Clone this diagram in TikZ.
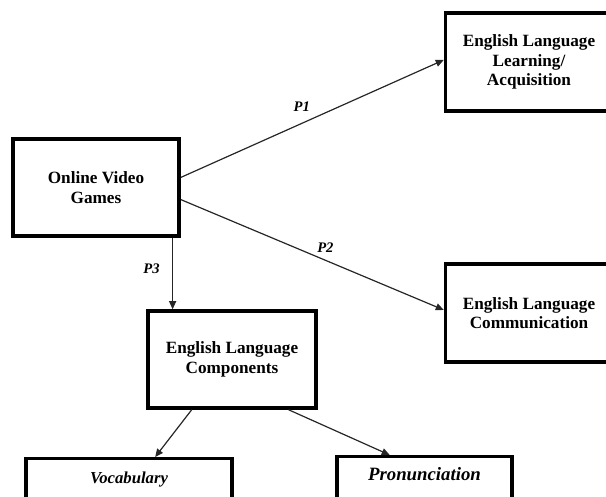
\documentclass[tikz,border=0pt]{standalone}
\usepackage{fontspec}
\setmainfont{Liberation Serif}
\usetikzlibrary{arrows.meta,calc}

\begin{document}
\begin{tikzpicture}[x=1pt, y=-1pt, >={Triangle[length=8pt,width=7pt]},
    factor/.style={draw, line width=3.5pt, align=center, inner sep=0pt,
                   font=\fontsize{17.2}{19.5}\selectfont\bfseries},
    leaf/.style={draw, line width=3.5pt, anchor=north, inner xsep=0pt,
                 inner ysep=10pt, text depth=40pt},
    link/.style={->, line width=1.2pt, draw=black!85},
    plabel/.style={font=\fontsize{14.6}{17}\selectfont\bfseries\itshape}]
  \useasboundingbox (0,0) rectangle (606,497);
  \node[factor, minimum width=166pt, minimum height=97pt] (ovg)  at (96,187.5)  {Online Video\\Games};
  \node[factor, minimum width=167pt, minimum height=98pt] (ell)  at (529,62)    {English Language\\Learning/\\Acquisition};
  \node[factor, minimum width=167pt, minimum height=98pt] (elc)  at (529,313)   {English Language\\Communication};
  \node[factor, minimum width=168pt, minimum height=97pt] (comp) at (232,359.5) {English Language\\Components};
  \node[leaf, minimum width=206pt, text height=15pt,
        font=\fontsize{16.7}{20}\selectfont\bfseries\itshape] (vocab) at (129,457) {Vocabulary};
  \node[leaf, minimum width=175pt, text height=14pt,
        font=\fontsize{18.8}{22}\selectfont\bfseries\itshape] (pron)  at (424.5,455) {Pronunciation};
  \coordinate (p3) at ($(ovg.south west)!0.952!(ovg.south east)$);
  \draw[link] ($(ovg.north east)!0.4!(ovg.south east)$)
      -- node[plabel, above=8pt, pos=0.46] {P1} ($(ell.north west)!0.48!(ell.south west)$);
  \draw[link] ($(ovg.north east)!0.62!(ovg.south east)$)
      -- node[plabel, above=4pt, pos=0.55] {P2} ($(elc.north west)!0.47!(elc.south west)$);
  \draw[link] (p3) -- node[plabel, left=9pt, pos=0.43] {P3} (p3 |- comp.north);
  \draw[link] ($(comp.south west)!0.265!(comp.south east)$) -- ($(vocab.north west)!0.625!(vocab.north east)$);
  \draw[link] ($(comp.south west)!0.83!(comp.south east)$)  -- ($(pron.north west)!0.305!(pron.north east)$);
\end{tikzpicture}
\end{document}
